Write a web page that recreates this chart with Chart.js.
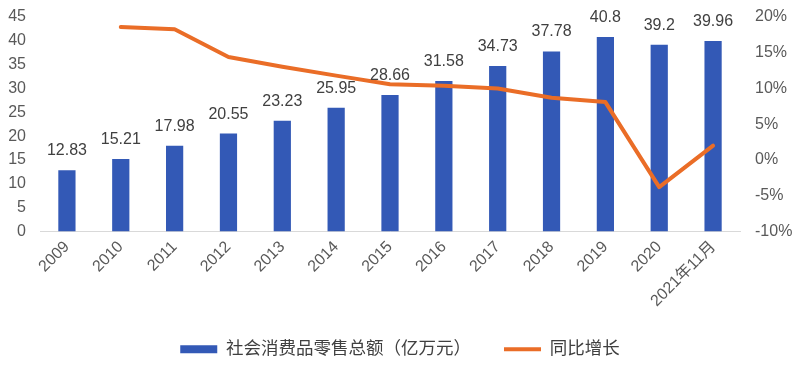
<!DOCTYPE html>
<html>
<head>
<meta charset="utf-8">
<script src="https://cdn.jsdelivr.net/npm/chart.js@4/dist/chart.umd.min.js"></script>
<style>
  html, body { margin: 0; padding: 0; background: #fff; }
  #wrap { width: 800px; height: 368px; position: relative; }
</style>
</head>
<body>
<div id="wrap"><canvas id="retailChart"></canvas></div>
<script>
// data
const years = ['2009', '2010', '2011', '2012', '2013', '2014', '2015', '2016', '2017', '2018', '2019', '2020', '2021年11月'];
const retailSales = [12.83, 15.21, 17.98, 20.55, 23.23, 25.95, 28.66, 31.58, 34.73, 37.78, 40.8, 39.2, 39.96];
const yoyGrowth = [null, 18.6, 18.3, 14.4, 13.05, 11.8, 10.6, 10.4, 10.0, 8.7, 8.1, -3.8, 2.0];
const leftTicks = [0, 45, 5];     // min, max, step
const rightTicks = [-10, 20, 5];  // percent

const BLUE = '#3359B6';
const ORANGE = '#EA6D27';

Chart.defaults.font.family = "'Liberation Sans', 'Noto Sans CJK SC', sans-serif";
Chart.defaults.color = '#595959';

// value labels above the bars
const barLabels = {
    id: 'barLabels',
    afterDatasetsDraw(chart) {
        const ctx = chart.ctx;
        const meta = chart.getDatasetMeta(0);
        ctx.save();
        ctx.font = "16px 'Liberation Sans', sans-serif";
        ctx.fillStyle = '#404040';
        ctx.textAlign = 'center';
        ctx.textBaseline = 'alphabetic';
        meta.data.forEach((bar, i) => {
            ctx.fillText(String(retailSales[i]), bar.x, bar.y - 15);
        });
        ctx.restore();
    }
};

// fixed axis widths, and keep tick padding from pushing the plot down
function sideAxis(width) {
    return function(scale) {
        scale.width = width;
        scale.paddingTop = 0;
        scale.paddingBottom = 0;
    };
}

const ctx = document.getElementById('retailChart').getContext('2d');
new Chart(ctx, {
    type: 'bar',
    data: {
        labels: years,
        datasets: [{
            label: '社会消费品零售总额（亿万元）',
            data: retailSales,
            backgroundColor: BLUE,
            borderWidth: 0,
            barPercentage: 0.32,
            categoryPercentage: 1,
            pointStyle: 'rect',
            yAxisID: 'y',
            order: 2
        }, {
            type: 'line',
            label: '同比增长',
            data: yoyGrowth,
            borderColor: ORANGE,
            borderWidth: 4,
            borderCapStyle: 'round',
            borderJoinStyle: 'round',
            pointRadius: 0,
            pointHoverRadius: 0,
            pointStyle: 'line',
            pointBorderColor: ORANGE,
            pointBorderWidth: 4,
            tension: 0,
            yAxisID: 'y1',
            order: 1
        }]
    },
    options: {
        responsive: true,
        maintainAspectRatio: false,
        animation: false,
        layout: { padding: { top: 17, left: 0, right: 0, bottom: 0 } },
        plugins: {
            tooltip: { enabled: false },
            legend: {
                position: 'bottom',
                maxHeight: 63,
                labels: {
                    usePointStyle: true,
                    pointStyleWidth: 37,
                    boxHeight: 8,
                    padding: 33,
                    color: '#404040',
                    font: { size: 17.5 },
                    sort: (a, b) => a.datasetIndex - b.datasetIndex
                }
            }
        },
        scales: {
            x: {
                grid: { display: false, drawTicks: false },
                border: { display: true, color: '#D9D9D9', width: 1 },
                ticks: {
                    autoSkip: false,
                    minRotation: 45,
                    maxRotation: 45,
                    padding: 6,
                    font: { size: 16 }
                },
                afterFit(scale) { scale.height = 76; }
            },
            y: {
                position: 'left',
                min: leftTicks[0],
                max: leftTicks[1],
                grid: { display: false, drawTicks: false },
                border: { display: false },
                ticks: { stepSize: leftTicks[2], padding: 14, font: { size: 16 } },
                afterFit: sideAxis(40)
            },
            y1: {
                position: 'right',
                min: rightTicks[0],
                max: rightTicks[1],
                grid: { display: false, drawTicks: false },
                border: { display: false },
                ticks: {
                    stepSize: rightTicks[2],
                    padding: 15,
                    font: { size: 16 },
                    callback: v => v + '%'
                },
                afterFit: sideAxis(60)
            }
        }
    },
    plugins: [barLabels]
});
</script>
</body>
</html>
